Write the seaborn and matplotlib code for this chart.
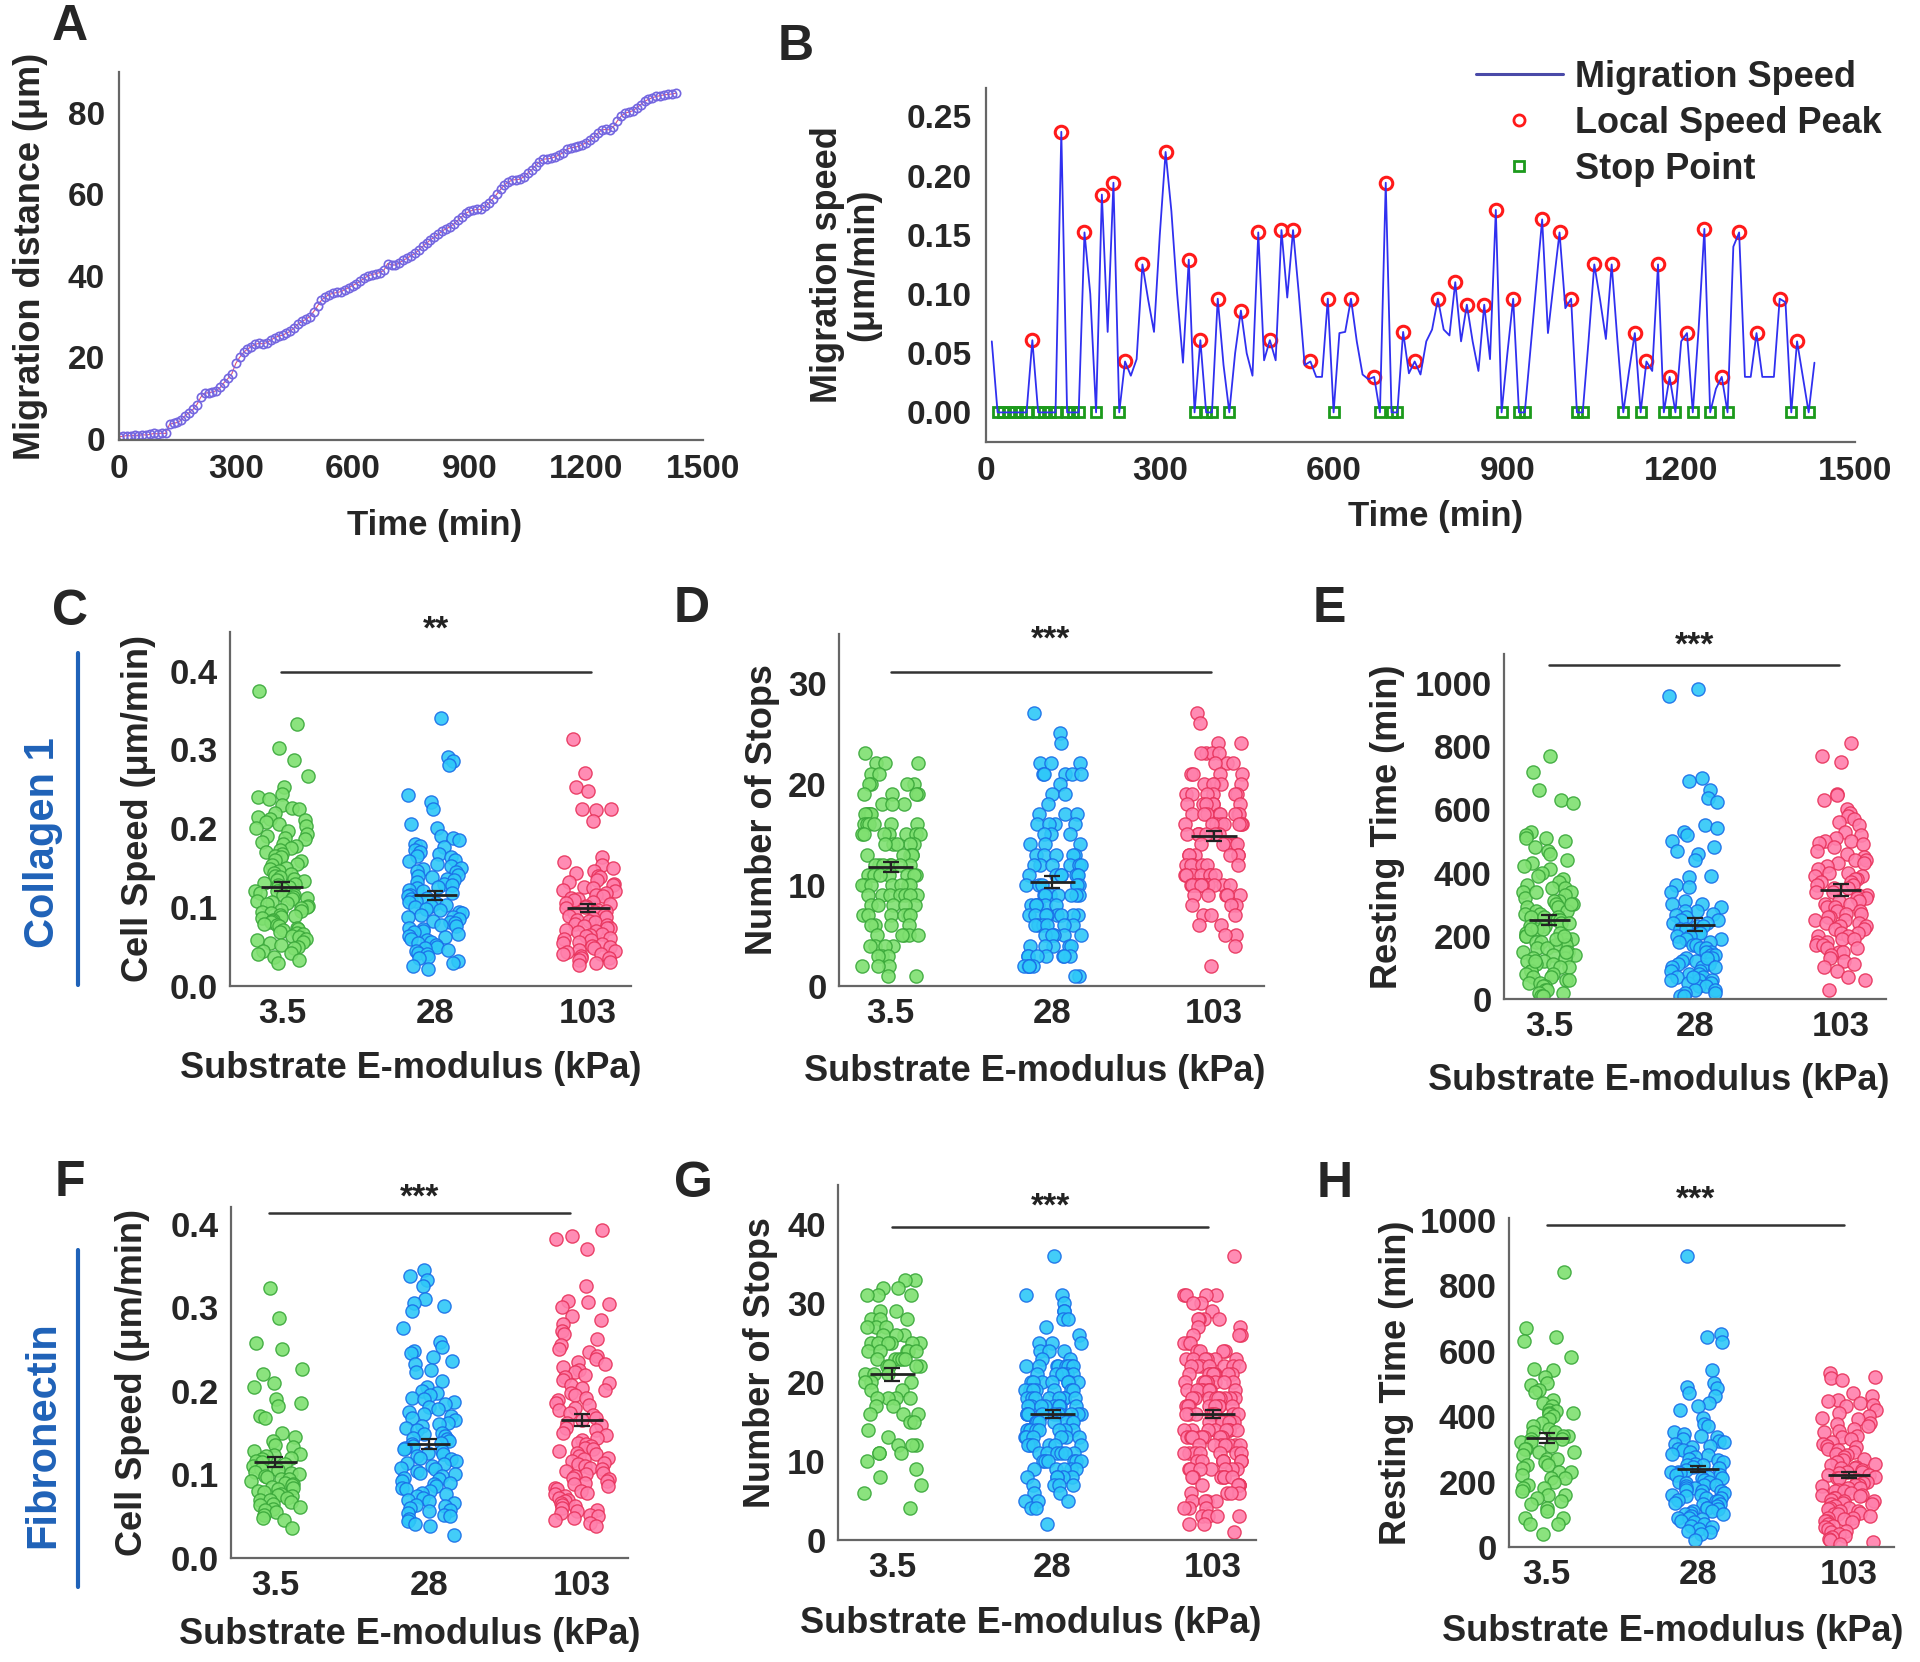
import numpy as np
import pandas as pd
import matplotlib
matplotlib.use("Agg")
import matplotlib.pyplot as plt
import seaborn as sns
from matplotlib.lines import Line2D
from matplotlib.ticker import MultipleLocator

sns.set_style("white")
plt.rcParams["font.family"] = ["Liberation Sans", "DejaVu Sans"]
plt.rcParams["font.weight"] = "bold"
plt.rcParams["axes.labelweight"] = "bold"
narrow = ["Liberation Sans Narrow", "Liberation Sans", "DejaVu Sans"]
np.random.seed(7)

# ---------------- data ----------------
# A: migration distance (um), one point every 10 min from 0 to 1430 min
time_a = np.arange(0, 1440, 10)
dist_a = [0.5, 0.6, 0.8, 0.7, 0.9, 0.8, 1.0, 0.9, 1.1, 1.3, 1.2, 1.4, 1.3,
          3.6, 3.8, 4.0, 4.6, 5.7, 6.4, 7.2, 8.4, 10.2, 11.2, 11.3, 11.5, 11.8,
          12.6, 13.8, 14.8, 16.0, 18.5, 20.0, 21.2, 22.0, 22.6, 23.2, 23.4, 23.3,
          23.6, 24.2, 24.8, 25.2, 25.4, 25.9, 26.4, 27.2, 28.2, 28.8, 29.3, 30.0,
          31.2, 32.6, 34.0, 34.8, 35.4, 35.7, 35.9, 36.1, 36.6, 37.1, 37.6, 38.1,
          38.7, 39.4, 40.0, 40.3, 40.5, 40.8, 41.3, 43.0, 42.7, 42.6, 43.2, 43.8,
          44.3, 44.9, 45.5, 46.3, 47.2, 48.0, 48.8, 49.5, 50.2, 51.0, 51.5, 52.0,
          52.7, 53.6, 54.5, 55.3, 55.8, 56.1, 56.3, 56.3, 57.0, 57.8, 58.9, 60.0,
          61.2, 62.3, 63.0, 63.5, 63.6, 63.7, 64.3, 65.2, 66.0, 67.0, 68.0, 68.6,
          68.7, 68.8, 69.2, 69.6, 70.2, 71.0, 71.4, 71.5, 71.8, 72.2, 72.6, 73.2,
          74.0, 75.0, 75.8, 75.9, 75.8, 76.6, 78.0, 79.2, 79.9, 80.2, 80.5, 81.2,
          82.0, 82.8, 83.3, 83.7, 84.0, 84.2, 84.4, 84.5, 84.6, 84.8]

# B: migration speed (um/min), one point every 10 min from 10 to 1430 min
time_b = np.arange(10, 1440, 10)
speed_b = [0.060, 0, 0, 0, 0, 0, 0, 0.061, 0, 0, 0, 0, 0.237, 0, 0, 0, 0.152, 0.100,
           0, 0.184, 0.068, 0.194, 0, 0.043, 0.031, 0.045, 0.125, 0.095, 0.068, 0.150,
           0.220, 0.170, 0.100, 0.042, 0.129, 0, 0.061, 0, 0, 0.096, 0.040, 0, 0.050,
           0.086, 0.050, 0.031, 0.152, 0.044, 0.061, 0.044, 0.154, 0.097, 0.154, 0.100,
           0.040, 0.043, 0.030, 0.030, 0.096, 0, 0.067, 0.068, 0.096, 0.060, 0.032,
           0.028, 0.030, 0, 0.194, 0, 0, 0.068, 0.033, 0.043, 0.032, 0.060, 0.070,
           0.096, 0.070, 0.065, 0.110, 0.060, 0.091, 0.060, 0.035, 0.091, 0.045, 0.171,
           0, 0.050, 0.096, 0, 0, 0.054, 0.109, 0.163, 0.067, 0.110, 0.152, 0.088,
           0.096, 0, 0, 0.060, 0.125, 0.095, 0.062, 0.125, 0.060, 0, 0.035, 0.067, 0,
           0.043, 0.035, 0.125, 0, 0.030, 0, 0.060, 0.067, 0, 0.070, 0.155, 0, 0.020,
           0.030, 0, 0.140, 0.152, 0.030, 0.030, 0.067, 0.030, 0.030, 0.030, 0.096,
           0.093, 0, 0.060, 0.030, 0, 0.042]

moduli = ["3.5", "28", "103"]

# C: collagen 1, cell speed (um/min)
speed_col_35 = [0.374, 0.332, 0.302, 0.287, 0.266, 0.253, 0.244, 0.240, 0.237, 0.229, 0.226,
                0.225, 0.220, 0.214, 0.212, 0.210, 0.208, 0.205, 0.203, 0.200, 0.197, 0.193,
                0.190, 0.188, 0.186, 0.183, 0.180, 0.178, 0.175, 0.172, 0.170, 0.167, 0.165,
                0.163, 0.160, 0.158, 0.155, 0.153, 0.150, 0.148, 0.146, 0.143, 0.142, 0.140,
                0.138, 0.136, 0.135, 0.133, 0.131, 0.130, 0.128, 0.126, 0.125, 0.123, 0.121,
                0.120, 0.118, 0.116, 0.115, 0.113, 0.112, 0.110, 0.108, 0.107, 0.105, 0.104,
                0.102, 0.100, 0.099, 0.097, 0.095, 0.094, 0.092, 0.090, 0.089, 0.087, 0.086,
                0.084, 0.082, 0.081, 0.079, 0.077, 0.076, 0.074, 0.072, 0.071, 0.069, 0.067,
                0.066, 0.064, 0.062, 0.060, 0.058, 0.056, 0.054, 0.052, 0.050, 0.048, 0.045,
                0.042, 0.040, 0.037, 0.033, 0.029]
speed_col_28 = [0.340, 0.291, 0.286, 0.280, 0.242, 0.233, 0.225, 0.205, 0.201, 0.190, 0.188,
                0.185, 0.180, 0.178, 0.176, 0.173, 0.170, 0.168, 0.165, 0.163, 0.160, 0.158,
                0.155, 0.152, 0.150, 0.148, 0.146, 0.144, 0.141, 0.140, 0.138, 0.136, 0.134,
                0.132, 0.130, 0.128, 0.126, 0.124, 0.122, 0.120, 0.118, 0.116, 0.114, 0.112,
                0.110, 0.108, 0.106, 0.105, 0.103, 0.101, 0.100, 0.098, 0.096, 0.094, 0.092,
                0.090, 0.088, 0.087, 0.085, 0.083, 0.081, 0.080, 0.078, 0.076, 0.074, 0.072,
                0.070, 0.068, 0.066, 0.064, 0.062, 0.060, 0.058, 0.056, 0.054, 0.052, 0.050,
                0.048, 0.046, 0.044, 0.042, 0.040, 0.037, 0.035, 0.032, 0.029, 0.025, 0.022]
speed_col_103 = [0.313, 0.270, 0.252, 0.247, 0.225, 0.224, 0.223, 0.209, 0.163, 0.157, 0.153,
                 0.150, 0.146, 0.143, 0.140, 0.138, 0.135, 0.132, 0.130, 0.128, 0.126, 0.124,
                 0.122, 0.120, 0.118, 0.116, 0.114, 0.112, 0.110, 0.109, 0.107, 0.105, 0.104,
                 0.102, 0.100, 0.099, 0.097, 0.095, 0.094, 0.092, 0.090, 0.089, 0.087, 0.086,
                 0.084, 0.082, 0.081, 0.079, 0.078, 0.076, 0.074, 0.073, 0.071, 0.070, 0.068,
                 0.066, 0.065, 0.063, 0.061, 0.060, 0.058, 0.056, 0.055, 0.053, 0.051, 0.050,
                 0.048, 0.046, 0.045, 0.043, 0.041, 0.040, 0.038, 0.036, 0.035, 0.033, 0.031,
                 0.029, 0.027]
speed_col_mean = [0.126, 0.115, 0.099]
speed_col_sem = [0.006, 0.006, 0.005]

# D: collagen 1, number of stops (value levels and how many cells sit at each)
stops_col_35_lv = [23, 22, 21, 20, 19, 18, 17, 16, 15, 14, 13, 12, 11, 10, 9, 8, 7, 6, 5, 4, 3, 2, 1]
stops_col_35_n = [1, 3, 2, 4, 4, 3, 5, 6, 7, 5, 5, 7, 8, 8, 7, 5, 6, 4, 5, 4, 3, 3, 2]
stops_col_28_lv = [27, 25, 24, 22, 21, 20, 19, 18, 17, 16, 15, 14, 13, 12, 11, 10, 9, 8, 7, 6, 5, 4, 3, 2, 1]
stops_col_28_n = [1, 1, 1, 3, 5, 1, 2, 1, 3, 4, 3, 3, 5, 6, 7, 6, 7, 6, 8, 6, 6, 5, 7, 5, 2]
stops_col_103_lv = [27, 26, 24, 23, 22, 21, 20, 19, 18, 17, 16, 15, 14, 13, 12, 11, 10, 9, 8, 7, 6, 5, 4, 2]
stops_col_103_n = [1, 1, 2, 4, 3, 4, 5, 6, 6, 8, 8, 7, 6, 6, 6, 7, 12, 5, 3, 3, 2, 2, 1, 1]
stops_col_mean = [11.8, 10.3, 14.8]
stops_col_sem = [0.5, 0.6, 0.5]

# E: collagen 1, resting time (min)
rest_col_35 = [770, 720, 660, 630, 620, 530, 520, 510, 510, 500, 480, 470, 460, 440, 430, 420,
               410, 400, 390, 380, 370, 360, 350, 350, 340, 340, 330, 320, 310, 310, 300, 300,
               290, 290, 280, 280, 270, 270, 260, 260, 250, 250, 240, 240, 230, 230, 220, 220,
               210, 210, 200, 200, 190, 190, 180, 180, 170, 170, 160, 160, 150, 150, 140, 140,
               130, 130, 120, 120, 110, 110, 100, 100, 90, 90, 80, 80, 70, 70, 60, 60, 50, 50,
               40, 40, 30, 30, 20, 20, 10, 10, 220, 190, 260, 300, 150, 120, 340, 200]
rest_col_28 = [980, 960, 700, 690, 660, 635, 625, 550, 540, 530, 520, 500, 480, 470, 460, 440,
               390, 385, 360, 355, 340, 310, 300, 300, 290, 280, 280, 270, 265, 260, 250, 250,
               240, 240, 230, 230, 220, 220, 210, 210, 200, 200, 190, 190, 180, 180, 170, 170,
               160, 160, 150, 150, 140, 140, 130, 130, 120, 120, 110, 110, 100, 100, 90, 90,
               80, 80, 70, 70, 60, 60, 60, 50, 50, 40, 40, 30, 30, 20, 20, 10, 10, 130, 100, 70]
rest_col_103 = [810, 770, 750, 650, 645, 630, 600, 590, 580, 570, 560, 550, 530, 520, 510, 500,
                500, 495, 490, 480, 470, 460, 450, 440, 440, 430, 430, 420, 410, 400, 400, 390,
                390, 380, 380, 370, 370, 360, 360, 350, 350, 340, 340, 330, 330, 320, 320, 310,
                310, 300, 300, 290, 290, 280, 280, 270, 270, 260, 260, 250, 250, 240, 240, 230,
                230, 220, 220, 210, 210, 200, 200, 190, 190, 180, 180, 170, 170, 160, 160, 150,
                150, 140, 130, 120, 110, 100, 90, 70, 60, 30]
rest_col_mean = [250, 235, 345]
rest_col_sem = [15, 20, 18]

# F: fibronectin, cell speed (um/min)
speed_fn_35 = [0.323, 0.287, 0.257, 0.250, 0.226, 0.220, 0.209, 0.205, 0.190, 0.185, 0.182,
               0.170, 0.168, 0.150, 0.145, 0.140, 0.135, 0.133, 0.128, 0.125, 0.123, 0.122,
               0.120, 0.118, 0.116, 0.115, 0.113, 0.110, 0.108, 0.106, 0.105, 0.103, 0.102,
               0.100, 0.098, 0.097, 0.095, 0.094, 0.092, 0.090, 0.089, 0.087, 0.085, 0.084,
               0.082, 0.080, 0.079, 0.077, 0.075, 0.074, 0.072, 0.070, 0.069, 0.067, 0.065,
               0.063, 0.061, 0.059, 0.057, 0.055, 0.052, 0.048, 0.045, 0.036]
speed_fn_28 = [0.345, 0.338, 0.333, 0.326, 0.310, 0.305, 0.302, 0.296, 0.275, 0.258, 0.252,
               0.248, 0.245, 0.240, 0.236, 0.232, 0.225, 0.222, 0.212, 0.205, 0.200, 0.198,
               0.195, 0.192, 0.190, 0.187, 0.184, 0.181, 0.178, 0.175, 0.172, 0.170, 0.167,
               0.165, 0.162, 0.160, 0.158, 0.155, 0.153, 0.150, 0.148, 0.146, 0.144, 0.142,
               0.140, 0.138, 0.136, 0.134, 0.132, 0.130, 0.128, 0.126, 0.124, 0.122, 0.120,
               0.118, 0.116, 0.114, 0.112, 0.110, 0.108, 0.106, 0.104, 0.102, 0.100, 0.098,
               0.096, 0.094, 0.092, 0.090, 0.088, 0.086, 0.084, 0.082, 0.080, 0.078, 0.076,
               0.074, 0.072, 0.070, 0.068, 0.066, 0.064, 0.062, 0.060, 0.058, 0.056, 0.054,
               0.052, 0.050, 0.047, 0.044, 0.041, 0.038, 0.028]
speed_fn_103 = [0.393, 0.385, 0.382, 0.370, 0.325, 0.308, 0.306, 0.304, 0.300, 0.290, 0.285,
                0.280, 0.272, 0.268, 0.262, 0.255, 0.250, 0.246, 0.242, 0.238, 0.235, 0.232,
                0.228, 0.225, 0.222, 0.219, 0.216, 0.213, 0.210, 0.207, 0.204, 0.201, 0.198,
                0.195, 0.192, 0.189, 0.186, 0.183, 0.180, 0.177, 0.174, 0.171, 0.168, 0.165,
                0.162, 0.159, 0.156, 0.153, 0.150, 0.147, 0.144, 0.141, 0.138, 0.136, 0.134,
                0.132, 0.130, 0.128, 0.126, 0.124, 0.122, 0.120, 0.118, 0.116, 0.114, 0.112,
                0.110, 0.108, 0.106, 0.104, 0.102, 0.100, 0.098, 0.096, 0.094, 0.092, 0.090,
                0.088, 0.086, 0.084, 0.082, 0.080, 0.078, 0.076, 0.074, 0.072, 0.070, 0.068,
                0.066, 0.064, 0.062, 0.060, 0.058, 0.056, 0.054, 0.052, 0.050, 0.048, 0.045,
                0.042, 0.038]
speed_fn_mean = [0.115, 0.136, 0.165]
speed_fn_sem = [0.006, 0.006, 0.007]

# G: fibronectin, number of stops
stops_fn_35_lv = [33, 32, 31, 29, 28, 27, 26, 25, 24, 23, 22, 21, 20, 19, 18, 17, 16, 15, 14, 13, 12, 11, 10, 9, 8, 7, 6, 4]
stops_fn_35_n = [2, 2, 3, 2, 3, 3, 3, 6, 5, 5, 4, 3, 3, 2, 4, 2, 3, 2, 1, 1, 3, 3, 1, 1, 1, 1, 1, 1]
stops_fn_28_lv = [36, 31, 30, 29, 28, 27, 26, 25, 24, 23, 22, 21, 20, 19, 18, 17, 16, 15, 14, 13, 12, 11, 10, 9, 8, 7, 6, 5, 4, 2]
stops_fn_28_n = [1, 2, 1, 2, 2, 1, 1, 3, 3, 2, 8, 6, 8, 7, 8, 9, 10, 8, 8, 6, 6, 6, 6, 5, 5, 4, 2, 3, 2, 1]
stops_fn_103_lv = [36, 31, 30, 29, 28, 27, 26, 25, 24, 23, 22, 21, 20, 19, 18, 17, 16, 15, 14, 13, 12, 11, 10, 9, 8, 7, 6, 5, 4, 3, 2, 1]
stops_fn_103_n = [1, 4, 2, 1, 4, 2, 3, 3, 4, 6, 7, 8, 8, 8, 9, 9, 8, 7, 8, 8, 7, 7, 7, 7, 6, 5, 4, 4, 3, 4, 2, 1]
stops_fn_mean = [21.0, 16.0, 16.0]
stops_fn_sem = [0.8, 0.5, 0.5]

# H: fibronectin, resting time (min)
rest_fn_35 = [840, 670, 640, 630, 580, 545, 540, 520, 500, 495, 480, 475, 450, 440, 430, 420,
              415, 410, 410, 405, 400, 390, 380, 370, 360, 350, 350, 340, 340, 330, 330, 320,
              320, 310, 300, 300, 290, 290, 280, 270, 270, 260, 250, 250, 240, 230, 230, 220,
              210, 210, 200, 190, 180, 180, 170, 160, 160, 150, 140, 130, 120, 110, 90, 90,
              70, 70, 40]
rest_fn_28 = [890, 650, 640, 625, 540, 500, 490, 485, 470, 460, 440, 430, 420, 395, 375, 370,
              350, 345, 340, 335, 330, 325, 320, 315, 310, 305, 300, 295, 290, 285, 280, 275,
              270, 265, 260, 255, 250, 250, 245, 240, 235, 230, 230, 225, 220, 220, 215, 210,
              210, 205, 200, 200, 195, 190, 190, 185, 180, 180, 175, 170, 170, 165, 160, 160,
              155, 150, 150, 145, 140, 140, 135, 130, 130, 125, 120, 120, 115, 110, 110, 105,
              100, 100, 95, 90, 90, 85, 80, 75, 70, 65, 60, 55, 50, 45, 40, 20]
rest_fn_103 = [530, 520, 515, 510, 470, 460, 450, 445, 440, 435, 430, 420, 410, 400, 395, 390,
               380, 375, 370, 360, 355, 350, 340, 335, 330, 320, 315, 310, 305, 300, 295, 290,
               285, 280, 275, 270, 265, 260, 255, 250, 245, 240, 240, 235, 230, 230, 225, 220,
               220, 215, 210, 210, 205, 200, 200, 195, 190, 190, 185, 180, 180, 175, 170, 170,
               165, 160, 160, 155, 150, 150, 145, 140, 140, 135, 130, 130, 125, 120, 120, 115,
               110, 110, 105, 100, 100, 95, 90, 90, 85, 80, 80, 75, 70, 65, 60, 55, 50, 45,
               40, 35, 30, 25, 20, 15, 10]
rest_fn_mean = [332, 238, 220]
rest_fn_sem = [15, 10, 8]

fills = ["#7fe070", "#2ec8f8", "#ff80ac"]
edges = ["#3aa83a", "#1a6ee8", "#e8335c"]
blue_txt = "#1f62b8"

# ---------------- figure ----------------
W, H = 1920, 1662
fig = plt.figure(figsize=(W / 100, H / 100), dpi=100)


def box(l, t, r, b):
    return [l / W, 1 - b / H, (r - l) / W, (b - t) / H]


def style_axes(ax, tick_size=24):
    sns.despine(ax=ax)
    for s in ["left", "bottom"]:
        ax.spines[s].set_color("#666666")
        ax.spines[s].set_linewidth(1.6)
    for lab in ax.get_xticklabels() + ax.get_yticklabels():
        lab.set_fontfamily(narrow)
        lab.set_fontweight("bold")
        lab.set_fontsize(tick_size)


def letter(x, y, s):
    fig.text(x / W, 1 - y / H, s, fontsize=36, fontweight="bold", ha="center", va="center")


# ---- A ----
ax = fig.add_axes(box(119, 72, 703, 440))
dfA = pd.DataFrame({"Time": time_a, "Distance": dist_a})
sns.lineplot(data=dfA, x="Time", y="Distance", ax=ax, color="#e0507a", lw=0.8,
             marker="o", markersize=6, markerfacecolor="none",
             markeredgecolor="#7466e0", markeredgewidth=1.2)
ax.set_xlim(0, 1500)
ax.set_ylim(-0.3, 90)
ax.set_xticks([0, 300, 600, 900, 1200, 1500])
ax.set_yticks([0, 20, 40, 60, 80])
ax.tick_params(axis="both", direction="out", length=6, width=1.4, color="#666666", pad=4)
ax.set_xlabel("Time (min)", fontsize=25, fontfamily=narrow)
ax.set_ylabel("Migration distance (μm)", fontsize=26)
ax.xaxis.set_label_coords(0.541, -0.188)
ax.yaxis.set_label_coords(-0.122, 0.5)
style_axes(ax, 24)
letter(70, 27, "A")

# ---- B ----
ax = fig.add_axes(box(986, 88, 1855, 442))
dfB = pd.DataFrame({"Time": time_b, "Speed": speed_b})
peaks = dfB[(dfB["Speed"] > dfB["Speed"].shift(1)) & (dfB["Speed"] >= dfB["Speed"].shift(-1))]
stops = dfB[dfB["Speed"] == 0]
ax.plot(peaks["Time"], peaks["Speed"], "o", ms=9, mfc="none", mec="#ff1a1a", mew=2.2, zorder=2)
ax.plot(stops["Time"], stops["Speed"], "s", ms=7.5, mfc="none", mec="#1c9a1c", mew=2.0, zorder=2)
sns.lineplot(data=dfB, x="Time", y="Speed", ax=ax, color="#3030f0", lw=1.3, zorder=3)
ax.set_xlim(0, 1500)
ax.set_ylim(-0.025, 0.274)
ax.set_xticks([0, 300, 600, 900, 1200, 1500])
ax.set_yticks([0, 0.05, 0.10, 0.15, 0.20, 0.25])
ax.set_yticklabels(["0.00", "0.05", "0.10", "0.15", "0.20", "0.25"])
ax.xaxis.set_minor_locator(MultipleLocator(150))
ax.yaxis.set_minor_locator(MultipleLocator(0.025))
ax.tick_params(axis="both", which="major", direction="out", length=6, width=1.4, color="#666666", pad=4)
ax.tick_params(axis="both", which="minor", direction="out", length=3, width=1.0, color="#888888")
ax.set_xlabel("Time (min)", fontsize=25, fontfamily=narrow)
ax.set_ylabel("Migration speed\n(μm/min)", fontsize=26, linespacing=1.05)
ax.xaxis.set_label_coords(0.517, -0.165)
ax.yaxis.set_label_coords(-0.12, 0.5)
style_axes(ax, 24)
handles = [Line2D([], [], color="#4a4aa8", lw=2.2),
           Line2D([], [], ls="none", marker="o", ms=8, mfc="none", mec="#ff1a1a", mew=2),
           Line2D([], [], ls="none", marker="s", ms=7, mfc="none", mec="#1c9a1c", mew=2)]
fig.legend(handles, ["Migration Speed", "Local Speed Peak", "Stop Point"],
           loc="upper left", bbox_to_anchor=(1476 / W, 1 - 60 / H), frameon=False,
           prop={"size": 26, "weight": "bold"}, handlelength=2.4, handletextpad=0.35,
           labelspacing=0.3, borderaxespad=0, borderpad=0)
letter(796, 47, "B")


# ---- strip panels ----
def strip_panel(rect, groups, means, sems, xlim, ylim, yticks, ylabs, ylabel,
                ylab_x, xlab_pos, sig_y, sig_x, star_y, stars):
    ax = fig.add_axes(box(*rect))
    for i, vals in enumerate(groups):
        sns.stripplot(x=[moduli[i]] * len(vals), y=vals, order=moduli, ax=ax,
                      color=fills[i], edgecolor=edges[i], linewidth=1.0, size=9.5,
                      jitter=0.18, alpha=0.9, zorder=2)
    pos = np.arange(len(moduli))
    ax.errorbar(pos, means, yerr=sems, fmt="none", ecolor="#222222", elinewidth=1.6,
                capsize=6, capthick=1.6, zorder=5)
    ax.hlines(means, pos - 0.14, pos + 0.14, color="#222222", lw=2.0, zorder=5)
    ax.plot(sig_x, [sig_y, sig_y], color="#333333", lw=1.8, clip_on=False)
    ax.text(np.mean(sig_x), star_y, stars, ha="center", va="center", fontsize=24,
            fontweight="bold", color="#222222")
    ax.set_xlim(*xlim)
    ax.set_ylim(*ylim)
    ax.set_yticks(yticks)
    ax.set_yticklabels(ylabs)
    ax.tick_params(axis="y", direction="out", length=6, width=1.4, color="#666666", pad=3)
    ax.tick_params(axis="x", length=0, pad=8)
    ax.set_xlabel("Substrate E-modulus (kPa)", fontsize=26)
    ax.set_ylabel(ylabel, fontsize=26)
    ax.xaxis.set_label_coords(*xlab_pos)
    ax.yaxis.set_label_coords(ylab_x, 0.5)
    style_axes(ax, 25)
    return ax


strip_panel((230, 632, 631, 986), [speed_col_35, speed_col_28, speed_col_103],
            speed_col_mean, speed_col_sem, (-0.34, 2.28), (0, 0.449),
            [0, 0.1, 0.2, 0.3, 0.4], ["0.0", "0.1", "0.2", "0.3", "0.4"],
            "Cell Speed (μm/min)", -0.185, (0.45, -0.185), 0.398, (-0.01, 2.02), 0.452, "**")
strip_panel((839, 634, 1264, 986),
            [np.repeat(stops_col_35_lv, stops_col_35_n), np.repeat(stops_col_28_lv, stops_col_28_n),
             np.repeat(stops_col_103_lv, stops_col_103_n)],
            stops_col_mean, stops_col_sem, (-0.32, 2.31), (0, 34.8),
            [0, 10, 20, 30], ["0", "10", "20", "30"],
            "Number of Stops", -0.139, (0.46, -0.192), 31.0, (0.0, 1.98), 34.2, "***")
strip_panel((1504, 654, 1886, 999), [rest_col_35, rest_col_28, rest_col_103],
            rest_col_mean, rest_col_sem, (-0.31, 2.31), (0, 1092),
            [0, 200, 400, 600, 800, 1000], ["0", "200", "400", "600", "800", "1000"],
            "Resting Time (min)", -0.26, (0.406, -0.186), 1057, (0.0, 1.99), 1118, "***")
strip_panel((231, 1207, 628, 1558), [speed_fn_35, speed_fn_28, speed_fn_103],
            speed_fn_mean, speed_fn_sem, (-0.29, 2.3), (0, 0.42),
            [0, 0.1, 0.2, 0.3, 0.4], ["0.0", "0.1", "0.2", "0.3", "0.4"],
            "Cell Speed (μm/min)", -0.204, (0.45, -0.168), 0.413, (-0.04, 1.92), 0.431, "***")
strip_panel((838, 1185, 1256, 1540),
            [np.repeat(stops_fn_35_lv, stops_fn_35_n), np.repeat(stops_fn_28_lv, stops_fn_28_n),
             np.repeat(stops_fn_103_lv, stops_fn_103_n)],
            stops_fn_mean, stops_fn_sem, (-0.34, 2.27), (0, 45),
            [0, 10, 20, 30, 40], ["0", "10", "20", "30", "40"],
            "Number of Stops", -0.144, (0.46, -0.185), 39.7, (0.0, 1.97), 42.2, "***")
strip_panel((1509, 1218, 1894, 1547), [rest_fn_35, rest_fn_28, rest_fn_103],
            rest_fn_mean, rest_fn_sem, (-0.25, 2.3), (0, 1005),
            [0, 200, 400, 600, 800, 1000], ["0", "200", "400", "600", "800", "1000"],
            "Resting Time (min)", -0.247, (0.425, -0.205), 985, (0.0, 1.97), 1059, "***")

letter(70, 612, "C")
letter(692, 609, "D")
letter(1329, 609, "E")
letter(70, 1183, "F")
letter(693, 1184, "G")
letter(1335, 1184, "H")

# substrate coating labels on the left
for txt, yc, y0, y1 in [("Collagen 1", 843, 653, 985), ("Fibronectin", 1435, 1250, 1587)]:
    fig.text(43 / W, 1 - yc / H, txt, rotation=90, fontsize=30, fontweight="bold",
             color=blue_txt, ha="center", va="center")
    fig.add_artist(Line2D([78 / W, 78 / W], [1 - y0 / H, 1 - y1 / H], color=blue_txt, lw=3))

fig.savefig("out.png", dpi=100)
